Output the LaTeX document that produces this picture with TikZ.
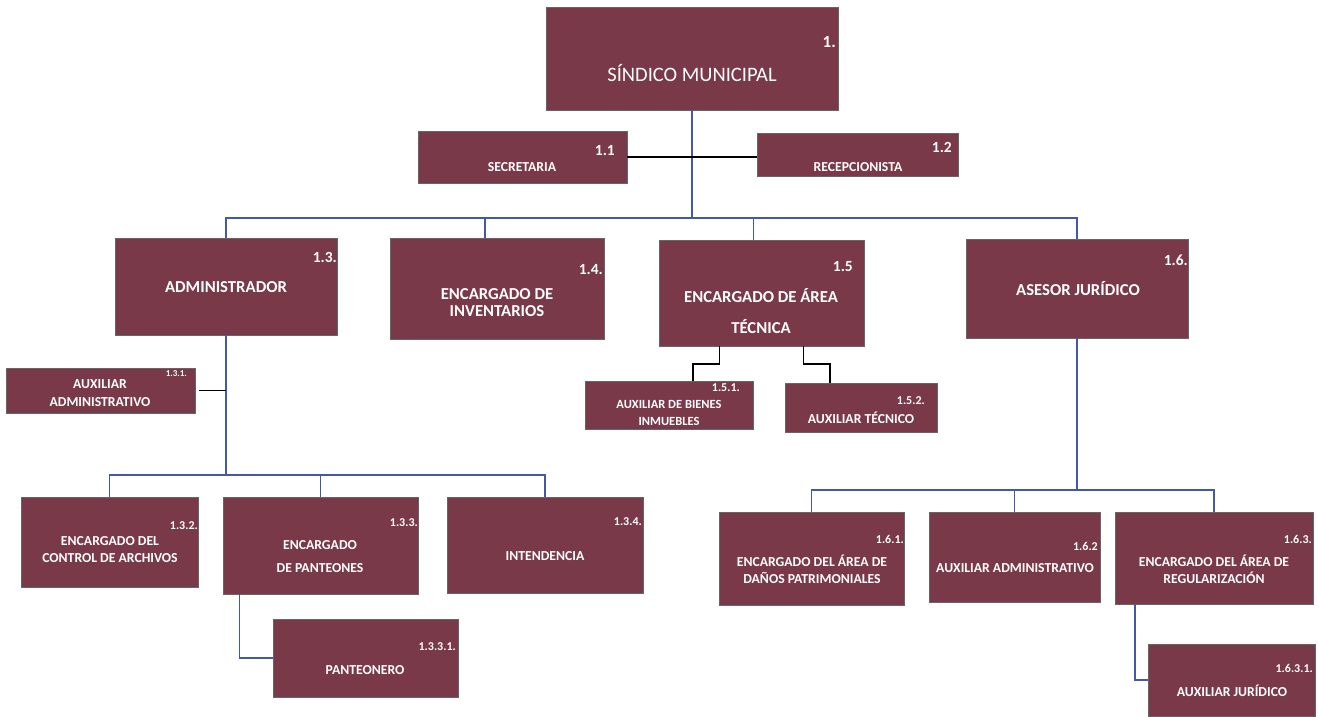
\documentclass[tikz,border=0pt]{standalone}
\usepackage{fontspec}
\setmainfont{Carlito}
\usetikzlibrary{fit}
\definecolor{vino}{RGB}{121,57,72}
\definecolor{azul}{RGB}{68,88,168}

\tikzset{
  caja/.style={draw=black!60,line width=0.6pt,fill=vino,inner sep=0pt},
  txt/.style={text=white,align=center,inner sep=0pt},
  tgrande/.style={txt,font=\fontsize{20.5}{24}\selectfont},
  tmedio/.style={txt,font=\bfseries\fontsize{16.7}{17}\selectfont},
  tchico/.style={txt,font=\bfseries\fontsize{13.7}{17}\selectfont},
  num/.style={text=white,anchor=east,inner sep=0pt,font=\bfseries\fontsize{12}{14}\selectfont},
  numg/.style={num,font=\bfseries\fontsize{15.5}{17}\selectfont},
  rama/.style={draw=azul,line width=1.1pt},
  enlace/.style={draw=black,line width=1.7pt}
}

\begin{document}
\begin{tikzpicture}[x=1pt,y=-1pt]
    \useasboundingbox (0,0) rectangle (1318,716);
    % sindico
    \node[caja,fit={(546,7) (838,110)}] (sind) {};
    \node[tgrande] (sind-t) at (692,73) {SÍNDICO MUNICIPAL};
    \node[num,font=\bfseries\fontsize{17}{19}\selectfont] (sind-n) at (836,42) {1.};
    % secretaria y recepcionista
    \node[caja,fit={(418,131) (627,183)}] (sec) {};
    \node[tchico] (sec-t) at (522,167) {SECRETARIA};
    \node[numg] (sec-n) at (615,151) {1.1};
    \node[caja,fit={(757,133) (958,176)}] (rec) {};
    \node[tchico] (rec-t) at (858,167) {RECEPCIONISTA};
    \node[numg] (rec-n) at (952,147) {1.2};
    % segundo nivel
    \node[caja,fit={(115,238) (337,335)}] (adm) {};
    \node[tmedio] (adm-t) at (226,287) {ADMINISTRADOR};
    \node[numg] (adm-n) at (337,257) {1.3.};
    \node[caja,fit={(390,238) (604,339)}] (inv) {};
    \node[tmedio] (inv-t) at (497,303) {ENCARGADO DE\\INVENTARIOS};
    \node[numg] (inv-n) at (603,270) {1.4.};
    \node[caja,fit={(659,240) (864,346)}] (tec) {};
    \node[tmedio] (tec-t) at (761,311) {ENCARGADO DE ÁREA\\[14pt]TÉCNICA};
    \node[numg] (tec-n) at (853,267) {1.5};
    \node[caja,fit={(966,239) (1188,338)}] (ase) {};
    \node[tmedio] (ase-t) at (1078,289) {ASESOR JURÍDICO};
    \node[numg] (ase-n) at (1188,260) {1.6.};
    % dependientes del administrador
    \node[caja,fit={(6,368) (195,413)}] (aux131) {};
    \node[tchico,font=\bfseries\fontsize{13.7}{18}\selectfont] (aux131-t) at (100,393) {AUXILIAR\\ADMINISTRATIVO};
    \node[num,font=\bfseries\fontsize{9}{10}\selectfont] (aux131-n) at (187,374) {1.3.1.};
    \node[caja,fit={(21,497) (198,587)}] (arch) {};
    \node[tchico] (arch-t) at (110,550) {ENCARGADO DEL\\CONTROL DE ARCHIVOS};
    \node[num] (arch-n) at (198,526) {1.3.2.};
    \node[caja,fit={(223,497) (418,594)}] (pant) {};
    \node[tchico] (pant-t) at (320,557) {ENCARGADO\\[6pt]DE PANTEONES};
    \node[num] (pant-n) at (418,523) {1.3.3.};
    \node[caja,fit={(447,497) (643,593)}] (inten) {};
    \node[tchico] (inten-t) at (545,556) {INTENDENCIA};
    \node[num] (inten-n) at (642,522) {1.3.4.};
    \node[caja,fit={(273,619) (458,697)}] (panton) {};
    \node[tchico] (panton-t) at (365,670) {PANTEONERO};
    \node[num] (panton-n) at (456,647) {1.3.3.1.};
    % area tecnica
    \node[caja,fit={(585,381) (753,429)}] (bienes) {};
    \node[tchico,font=\bfseries\fontsize{12.5}{17}\selectfont] (bienes-t) at (669,413) {AUXILIAR DE BIENES\\INMUEBLES};
    \node[num] (bienes-n) at (740,388) {1.5.1.};
    \node[caja,fit={(785,383) (937,432)}] (auxtec) {};
    \node[tchico] (auxtec-t) at (861,418) {AUXILIAR TÉCNICO};
    \node[num] (auxtec-n) at (925,401) {1.5.2.};
    % asesor juridico
    \node[caja,fit={(719,512) (904,605)}] (danos) {};
    \node[tchico] (danos-t) at (812,569) {ENCARGADO DEL ÁREA DE\\DAÑOS PATRIMONIALES};
    \node[num] (danos-n) at (904,539) {1.6.1.};
    \node[caja,fit={(929,512) (1100,602)}] (auxadm) {};
    \node[tchico] (auxadm-t) at (1015,568) {AUXILIAR ADMINISTRATIVO};
    \node[num] (auxadm-n) at (1098,546) {1.6.2};
    \node[caja,fit={(1115,512) (1313,604)}] (regul) {};
    \node[tchico] (regul-t) at (1214,569) {ENCARGADO DEL ÁREA DE\\REGULARIZACIÓN};
    \node[num] (regul-n) at (1312,539) {1.6.3.};
    \node[caja,fit={(1148,644) (1315,716)}] (auxjur) {};
    \node[tchico] (auxjur-t) at (1232,691) {AUXILIAR JURÍDICO};
    \node[num] (auxjur-n) at (1313,668) {1.6.3.1.};
    % lineas
    \coordinate (bus1) at (692,218);
    \draw[rama] (sind.south) -- (bus1);
    \draw[rama] (adm.north) |- (bus1) -| (ase.north);
    \draw[rama] (bus1) -| ([xshift=-12pt]inv.north);
    \draw[rama] (bus1) -| ([xshift=-8pt]tec.north);
    \draw[enlace] (sec.east) -- (sec.east -| rec.west);
    \coordinate (bus2) at (226,475);
    \draw[rama] (adm.south) -- (bus2);
    \draw[enlace] ([xshift=4pt]aux131.east) -- (aux131.east -| adm.south);
    \draw[rama] (arch.north) |- (bus2) -| (inten.north);
    \draw[rama] (bus2) -| (pant.north);
    \draw[rama] ([xshift=-81pt]pant.south) |- (panton.west);
    \draw[enlace] ([xshift=-42pt]tec.south) -- ++(0,18) -| ([xshift=24pt]bienes.north);
    \draw[enlace] ([xshift=42pt]tec.south) -- ++(0,18) -| ([xshift=-31pt]auxtec.north);
    \coordinate (bus3) at (1077,490);
    \draw[rama] (ase.south) -- (bus3);
    \draw[rama] (danos.north) |- (bus3) -| (regul.north);
    \draw[rama] (bus3) -| (auxadm.north);
    \draw[rama] ([xshift=-79pt]regul.south) |- (auxjur.west);
\end{tikzpicture}
\end{document}
